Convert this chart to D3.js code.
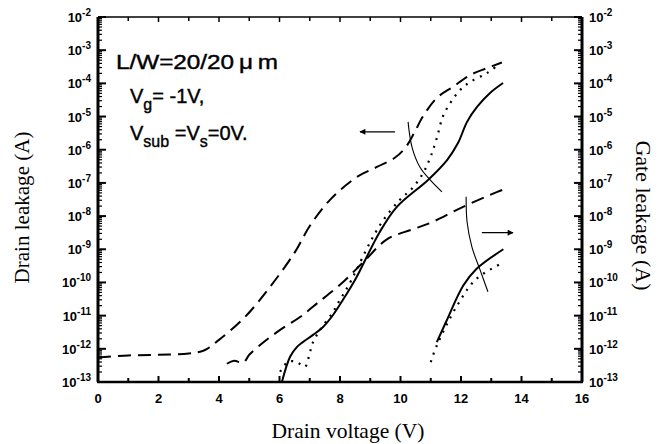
<!DOCTYPE html>
<html>
<head>
<meta charset="utf-8">
<script src="https://cdn.jsdelivr.net/npm/d3@7"></script>
<style>
  body { margin: 0; background: #fff; }
  svg { display: block; }
  .tick-label { font-family: "Liberation Sans", Arial, sans-serif; font-weight: bold; font-size: 13px; }
  .axis-title { font-family: "Liberation Serif", "Times New Roman", serif; font-size: 21px; }
  .note { font-family: "Liberation Sans", Arial, sans-serif; font-size: 20px; stroke: #000; stroke-width: 0.4px; }
</style>
</head>
<body>
<div id="chart"></div>
<script>
// x ticks (drain voltage, V)
const xTicks = [0, 2, 4, 6, 8, 10, 12, 14, 16];
// y decades (log10 of current, A)
const yDecades = [-2, -3, -4, -5, -6, -7, -8, -9, -10, -11, -12, -13];

// curves: [V, log10(I)]
const drainDashed = [[0, -12.26], [1, -12.2], [2, -12.18], [3, -12.14], [3.5, -12.05], [4.0, -11.73], [4.86, -11.04], [5.69, -10.13], [6.5, -9.1], [7.0, -8.3], [7.67, -7.51], [8.56, -6.82], [9.22, -6.52], [9.8, -6.25], [10.15, -5.95], [10.45, -5.5], [10.74, -5.0], [11.2, -4.44], [11.74, -4.1], [12.3, -3.75], [12.86, -3.54], [13.35, -3.37]];
const gateDashed = [[4.26, -12.45], [4.5, -12.36], [4.8, -12.42], [5.0, -12.18], [5.45, -11.82], [6.02, -11.43], [6.68, -11.04], [7.27, -10.61], [8.0, -10.07], [8.76, -9.4], [9.55, -8.7], [10.4, -8.4], [11.0, -8.2], [12.07, -7.72], [13.2, -7.27], [13.4, -7.2]];
const drainSolid = [[6.08, -13.0], [6.35, -12.24], [6.58, -11.94], [6.78, -11.79], [7.11, -11.58], [7.44, -11.34], [7.77, -10.98], [8.1, -10.52], [8.5, -9.92], [9.3, -8.5], [9.88, -7.72], [10.91, -6.91], [11.54, -6.31], [11.9, -5.8], [12.2, -5.16], [12.53, -4.71], [12.96, -4.29], [13.39, -3.99]];
const drainDotted = [[6.02, -12.69], [6.28, -12.39], [6.55, -12.39], [6.84, -12.54], [7.0, -12.12], [7.1, -11.82], [7.34, -11.43], [7.77, -10.89], [8.0, -10.52], [8.26, -10.13], [9.3, -8.3], [9.98, -7.51], [10.4, -7.15], [10.75, -6.7], [11.0, -6.2], [11.2, -5.65], [11.4, -5.0], [11.64, -4.6], [11.97, -4.2], [12.3, -3.96], [12.86, -3.69], [13.22, -3.45]];
const gateSolid = [[11.2, -11.8], [11.5, -11.2], [12.07, -10.1], [12.5, -9.6], [13.4, -9.0]];
const gateDotted = [[11.0, -12.4], [11.2, -11.9], [11.87, -10.7], [12.5, -9.9], [13.4, -9.4]];

// annotation marks
const arcLeft = [[10.25, -5.16], [10.38, -5.92], [10.64, -6.52], [10.98, -6.91], [11.37, -7.27]];
const arcRight = [[12.17, -7.42], [12.2, -8.17], [12.36, -8.93], [12.63, -9.62], [12.89, -10.28]];
const arrowLeft = [[9.82, -5.46], [8.66, -5.46]];
const arrowRight = [[12.69, -8.5], [13.72, -8.5]];

const W = 667, H = 444;
const margin = { top: 17, right: 85, bottom: 62, left: 98 };

const svg = d3.select('#chart').append('svg')
  .attr('width', W)
  .attr('height', H);

const x = d3.scaleLinear().domain([0, 16]).range([margin.left, W - margin.right]);
const y = d3.scaleLog().domain([1e-13, 1e-2]).range([H - margin.bottom, margin.top]);
const yl = v => y(Math.pow(10, v));

const x0 = x(0), x1 = x(16), y0 = y(1e-13), y1 = y(1e-2);

// log minor ticks
const minorY = [];
for (let d = -13; d < -2; d++) {
  for (let k = 2; k <= 9; k++) minorY.push(k * Math.pow(10, d));
}

// frame
svg.append('line').attr('x1', x0).attr('x2', x1).attr('y1', y1).attr('y2', y1)
  .attr('stroke', '#000').attr('stroke-width', 1.5);
svg.append('line').attr('x1', x0 - 1).attr('x2', x1 + 1).attr('y1', y0).attr('y2', y0)
  .attr('stroke', '#000').attr('stroke-width', 2.5);
svg.append('line').attr('x1', x0).attr('x2', x0).attr('y1', y1).attr('y2', y0)
  .attr('stroke', '#000').attr('stroke-width', 3);
svg.append('line').attr('x1', x1).attr('x2', x1).attr('y1', y1).attr('y2', y0)
  .attr('stroke', '#000').attr('stroke-width', 3);

// x ticks bottom (inward) and top (inward)
const xAll = d3.range(0, 17);
svg.append('g').selectAll('line').data(xAll).join('line')
  .attr('x1', d => x(d)).attr('x2', d => x(d))
  .attr('y1', y0).attr('y2', d => y0 - (d % 2 === 0 ? 6 : 4))
  .attr('stroke', '#000').attr('stroke-width', 2);
svg.append('g').selectAll('line').data(xAll).join('line')
  .attr('x1', d => x(d)).attr('x2', d => x(d))
  .attr('y1', y1).attr('y2', d => y1 + (d % 2 === 0 ? 5 : 4))
  .attr('stroke', '#000').attr('stroke-width', 1.5);

// y ticks on both sides
[[x0, 1], [x1, -1]].forEach(([xp, dir]) => {
  const g = svg.append('g');
  g.selectAll('line.maj').data(yDecades).join('line').attr('class', 'maj')
    .attr('x1', xp).attr('x2', xp + dir * 8)
    .attr('y1', d => yl(d)).attr('y2', d => yl(d))
    .attr('stroke', '#000').attr('stroke-width', 2);
  g.selectAll('line.min').data(minorY).join('line').attr('class', 'min')
    .attr('x1', xp).attr('x2', xp + dir * 4)
    .attr('y1', d => y(d)).attr('y2', d => y(d))
    .attr('stroke', '#000').attr('stroke-width', 1.2);
});

// x tick labels
svg.append('g').selectAll('text').data(xTicks).join('text')
  .attr('class', 'tick-label')
  .attr('x', d => x(d)).attr('y', y0 + 21)
  .attr('text-anchor', 'middle')
  .text(d => d);

// y tick labels
function decadeLabel(sel, anchor, xp) {
  sel.selectAll('text').data(yDecades).join('text')
    .attr('class', 'tick-label')
    .attr('x', xp).attr('y', d => yl(d) + 5)
    .attr('text-anchor', anchor)
    .each(function (d) {
      const t = d3.select(this);
      t.append('tspan').text('10');
      t.append('tspan').attr('dy', -6).attr('font-size', 10).text('-' + Math.abs(d));
    });
}
decadeLabel(svg.append('g'), 'end', x0 - 7);
decadeLabel(svg.append('g'), 'start', x1 + 7);

// axis titles
svg.append('text').attr('class', 'axis-title')
  .attr('x', (x0 + x1) / 2 + 8).attr('y', 438)
  .attr('text-anchor', 'middle')
  .attr('textLength', 153).attr('lengthAdjust', 'spacingAndGlyphs')
  .text('Drain voltage (V)');
svg.append('text').attr('class', 'axis-title')
  .attr('transform', `translate(29,${(y0 + y1) / 2 + 8}) rotate(-90)`)
  .attr('text-anchor', 'middle')
  .attr('textLength', 152).attr('lengthAdjust', 'spacingAndGlyphs')
  .text('Drain leakage (A)');
svg.append('text').attr('class', 'axis-title')
  .attr('transform', `translate(636,${(y0 + y1) / 2 + 16}) rotate(90)`)
  .attr('text-anchor', 'middle')
  .attr('textLength', 150).attr('lengthAdjust', 'spacingAndGlyphs')
  .text('Gate leakage (A)');

// notes
const note = svg.append('g').attr('class', 'note');
note.append('text').attr('x', 116).attr('y', 69)
  .attr('textLength', 162).attr('lengthAdjust', 'spacingAndGlyphs')
  .text('L/W=20/20\u2009\u03bc\u2009m');
const vg = note.append('text').attr('x', 130).attr('y', 103);
vg.append('tspan').text('V');
vg.append('tspan').attr('dy', 7).attr('font-size', 16).text('g');
vg.append('tspan').attr('dy', -7).text('= -1V,');
const vs = note.append('text').attr('x', 130).attr('y', 140);
vs.append('tspan').text('V');
vs.append('tspan').attr('dy', 7).attr('font-size', 16).text('sub');
vs.append('tspan').attr('dy', -7).text(' =V');
vs.append('tspan').attr('dy', 7).attr('font-size', 16).text('s');
vs.append('tspan').attr('dy', -7).text('=0V.');

// curves
const line = d3.line().x(d => x(d[0])).y(d => yl(d[1])).curve(d3.curveCatmullRom.alpha(0.5));
const curves = [
  { data: drainDashed, dash: '13,7', w: 2 },
  { data: gateDashed, dash: '13,7', w: 2 },
  { data: drainSolid, dash: null, w: 2 },
  { data: drainDotted, dash: '2,6', w: 2.2 },
  { data: gateSolid, dash: null, w: 2 },
  { data: gateDotted, dash: '2,6', w: 2.2 }
];
svg.append('g').selectAll('path').data(curves).join('path')
  .attr('d', d => line(d.data))
  .attr('fill', 'none')
  .attr('stroke', '#000')
  .attr('stroke-width', d => d.w)
  .attr('stroke-dasharray', d => d.dash);

// annotation arcs
svg.append('g').selectAll('path').data([arcLeft, arcRight]).join('path')
  .attr('d', d => line(d))
  .attr('fill', 'none').attr('stroke', '#000').attr('stroke-width', 1.1);

// arrows
svg.append('defs').append('marker')
  .attr('id', 'head').attr('viewBox', '0 0 10 10')
  .attr('refX', 9).attr('refY', 5)
  .attr('markerWidth', 10).attr('markerHeight', 6)
  .attr('markerUnits', 'userSpaceOnUse')
  .attr('orient', 'auto')
  .append('path').attr('d', 'M0,0L10,5L0,10Z').attr('fill', '#000');
svg.append('g').selectAll('line').data([arrowLeft, arrowRight]).join('line')
  .attr('x1', d => x(d[0][0])).attr('y1', d => yl(d[0][1]))
  .attr('x2', d => x(d[1][0])).attr('y2', d => yl(d[1][1]))
  .attr('stroke', '#000').attr('stroke-width', 1.3)
  .attr('marker-end', 'url(#head)');
</script>
</body>
</html>
